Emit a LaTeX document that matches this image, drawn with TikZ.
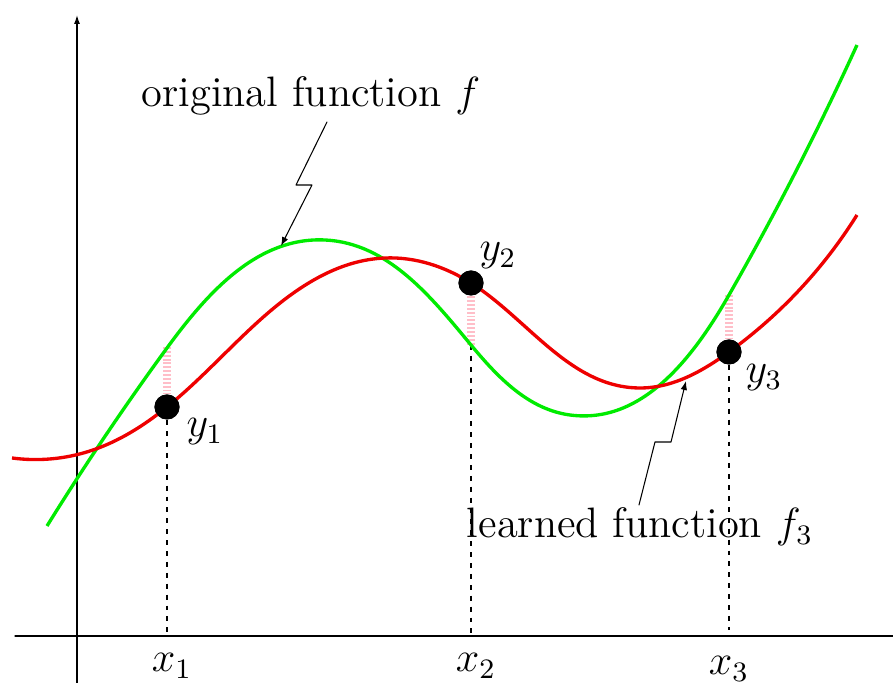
\documentclass[tikz,border=0pt]{standalone}
\usepackage{amsmath}
\usepackage{tikz}
\usetikzlibrary{arrows.meta,positioning,calc,hobby}
\definecolor{fgreen}{RGB}{0,235,0}
\definecolor{fred}{RGB}{238,0,0}
\definecolor{gappink}{RGB}{255,190,200}
\tikzset{
    every picture/.style={line cap=round,line join=round},
    axisline/.style={draw=black,line width=0.35pt},
    curve/.style={line width=0.95pt,line cap=butt},
    sample/.style={circle,fill=black,inner sep=0pt,minimum size=0.25cm},
    guide/.style={draw=black,line width=0.3pt,line cap=butt,dash pattern=on 1.4pt off 1.7pt},
    gapline/.style={draw=gappink,line width=2pt,line cap=butt,dash pattern=on 0.55pt off 0.55pt},
    zigzag/.style={-{Latex[length=0.9mm,width=0.65mm]},draw=black,line width=0.3pt},
    lbl/.style={inner sep=1pt,font=\fontsize{12.1}{14.5}\selectfont}
}
\begin{document}
\begin{tikzpicture}[x=0.01cm,y=-0.01cm]
  \useasboundingbox (0,0) rectangle (893,683);
  % axes
  \coordinate (xl) at (15,636);
  \coordinate (xr) at (893,636);
  \coordinate (yb) at (77,683);
  \coordinate (yt) at (77,15);
  \draw[axisline] (xl) -- (xr);
  \draw[axisline,-{Latex[length=0.9mm,width=0.6mm]}] (yb) -- (yt);

  % samples and where f passes above/below them
  \node[sample] (p1) at (167,407) {};
  \node[sample] (p2) at (471,283) {};
  \node[sample] (p3) at (729,352) {};
  \coordinate (g1) at (167,347);
  \coordinate (g2) at (471,345);
  \coordinate (g3) at (729,295);

  \draw[guide] (p1) -- (p1 |- xl);
  \draw[guide] (g2) -- (g2 |- xl);
  \draw[guide] (p3) -- ($(p3 |- xl)+(0,-6)$);
  \draw[gapline] (g1) -- (p1);
  \draw[gapline] (p2) -- (g2);
  \draw[gapline] (g3) -- (p3);

  % original function f
  \draw[curve,fgreen,use Hobby shortcut] (47,526) .. (167,348) .. (325,240)
    .. (471,345) .. (570,415) .. (729,295) .. (857,45);
  % learned function f_3
  \draw[curve,fred,use Hobby shortcut] (12,458) .. (90,451) .. (167,407)
    .. (260,320) .. (385,258) .. (471,283) .. (640,388) .. (729,352) .. (857,215);

  \node[sample] at (p1) {};
  \node[sample] at (p2) {};
  \node[sample] at (p3) {};

  \node[lbl] (y1) at (205,432) {$y_1$};
  \node[lbl] (y2) at (498,256) {$y_2$};
  \node[lbl] (y3) at (764,378) {$y_3$};
  \node[lbl] (x1) at (172,666) {$x_1$};
  \node[lbl] (x2) at (476,666) {$x_2$};
  \node[lbl] (x3) at (729,669) {$x_3$};

  % labels with zigzag pointers
  \node[lbl] (orig) at (311,96) {original function $f$};
  \node[lbl] (learn) at (640,527) {learned function $f_3$};
  \coordinate (oa) at (327,122);
  \coordinate (otip) at (281,246);
  \coordinate (la) at (639,505);
  \coordinate (ltip) at (686,381);
  \draw[zigzag] (oa) -- (296,185) -- (312,185) -- (otip);
  \draw[zigzag] (la) -- (655,442) -- (671,442) -- (ltip);
\end{tikzpicture}
\end{document}
